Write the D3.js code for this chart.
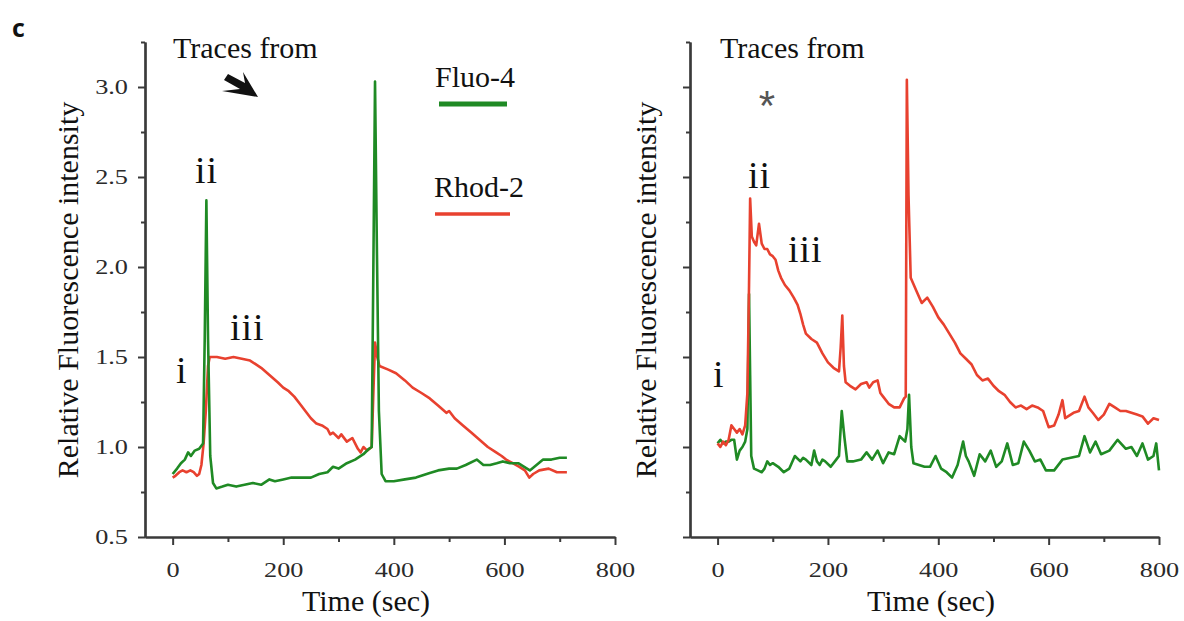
<!DOCTYPE html>
<html>
<head>
<title>Fluo-4 / Rhod-2 traces</title>
<script src="https://cdn.jsdelivr.net/npm/d3@7/dist/d3.min.js"></script>
<style>
body { margin: 0; background: #fff; }
svg text { font-family: "Liberation Serif", "Times New Roman", serif; }
</style>
</head>
<body>
<script>

// left panel, Fluo-4 (green)
var leftFluoT = [0,8,15,22,28,33,40,48,55,58,61,64,68,73,79,90,100,115,130,145,160,175,185,200,215,230,250,265,280,290,300,315,330,345,355,360,363,366,369,373,378,385,400,420,440,465,480,500,514,530,550,562,574,586,597,610,625,646,658,670,685,700,713];
var leftFluoV = [0.85,0.88,0.91,0.93,0.97,0.95,0.98,0.99,1.02,1.6,2.37,1.6,0.95,0.8,0.77,0.78,0.79,0.78,0.79,0.8,0.79,0.82,0.81,0.82,0.83,0.83,0.83,0.85,0.86,0.89,0.88,0.91,0.93,0.96,0.99,1.0,2.0,3.03,2.2,1.2,0.85,0.81,0.81,0.82,0.83,0.855,0.87,0.88,0.88,0.9,0.93,0.9,0.9,0.91,0.92,0.91,0.91,0.87,0.9,0.93,0.93,0.94,0.94];

// left panel, Rhod-2 (red)
var leftRhodT = [0,5,12,18,25,32,38,44,48,52,56,60,64,67,80,95,110,125,140,150,160,175,190,200,210,220,230,240,250,260,270,280,285,290,300,305,315,325,335,340,345,352,360,363,366,370,374,390,404,420,434,450,465,480,495,500,510,525,540,555,570,585,595,603,615,627,637,645,652,663,680,695,713];
var leftRhodV = [0.83,0.84,0.86,0.87,0.86,0.87,0.86,0.84,0.85,0.9,1.02,1.2,1.45,1.5,1.5,1.49,1.5,1.49,1.48,1.46,1.44,1.4,1.36,1.33,1.31,1.28,1.24,1.2,1.16,1.13,1.12,1.1,1.07,1.08,1.05,1.07,1.03,1.05,0.99,0.97,1.0,0.98,1.0,1.3,1.58,1.5,1.45,1.43,1.41,1.37,1.33,1.3,1.27,1.23,1.19,1.2,1.16,1.12,1.08,1.04,1.0,0.97,0.95,0.93,0.91,0.89,0.87,0.83,0.85,0.87,0.88,0.86,0.86];

// right panel, Rhod-2 (red)
var rightRhodT = [0,5,10,15,20,25,30,35,40,45,50,54,57,59,62,66,70,75,80,85,90,95,100,105,110,115,122,130,138,145,150,155,160,170,180,190,200,210,220,223,226,229,232,240,250,260,270,275,282,290,295,300,310,320,330,338,341,343,346,350,360,370,380,390,400,410,420,430,440,450,460,470,480,490,500,510,520,530,540,550,560,570,580,590,600,610,618,625,630,635,645,655,665,672,680,690,700,710,720,730,740,750,760,770,780,790,800];
var rightRhodV = [1.02,1.0,1.03,1.01,1.04,1.12,1.1,1.08,1.1,1.07,1.12,1.3,1.9,2.38,2.17,2.14,2.12,2.24,2.13,2.1,2.1,2.07,2.06,2.04,1.98,1.94,1.9,1.87,1.83,1.79,1.74,1.68,1.63,1.6,1.58,1.52,1.47,1.44,1.42,1.55,1.73,1.45,1.36,1.34,1.32,1.35,1.36,1.33,1.36,1.37,1.3,1.28,1.24,1.22,1.22,1.27,1.28,3.04,2.4,1.94,1.87,1.8,1.83,1.78,1.72,1.68,1.63,1.58,1.52,1.49,1.46,1.4,1.37,1.38,1.34,1.31,1.29,1.25,1.22,1.23,1.21,1.23,1.22,1.2,1.11,1.12,1.18,1.26,1.16,1.17,1.19,1.2,1.28,1.22,1.19,1.15,1.18,1.24,1.22,1.2,1.2,1.19,1.18,1.17,1.13,1.16,1.15];

// right panel, Fluo-4 (green)
var rightFluoT = [0,5,10,15,20,25,30,35,40,45,50,54,57,59,61,66,73,80,85,90,95,100,110,120,130,140,150,155,160,170,175,180,185,190,195,205,215,220,225,230,235,245,260,270,280,290,300,310,320,330,340,344,347,351,355,365,375,385,395,405,415,425,435,445,450,455,465,475,485,495,505,515,525,535,545,555,565,575,585,595,610,625,640,655,665,675,685,695,710,725,740,750,760,770,780,790,795,800];
var rightFluoV = [1.02,1.04,1.02,1.03,1.03,1.04,1.04,0.93,0.98,1.0,1.03,1.1,1.85,1.4,0.95,0.88,0.87,0.86,0.88,0.92,0.9,0.91,0.89,0.86,0.88,0.95,0.92,0.94,0.93,0.9,0.98,0.92,0.9,0.93,0.92,0.89,0.93,0.95,1.2,1.05,0.92,0.92,0.93,0.97,0.93,0.98,0.91,0.97,0.96,1.06,1.03,1.1,1.29,1.0,0.91,0.9,0.89,0.89,0.95,0.88,0.86,0.83,0.9,1.03,0.95,0.92,0.84,0.96,0.92,0.98,0.89,0.92,1.02,0.9,0.91,1.03,0.98,0.92,0.93,0.87,0.87,0.93,0.94,0.95,1.06,0.97,1.03,0.96,0.98,1.04,0.99,1.0,0.95,1.02,0.93,0.95,1.02,0.87];

var xMajor = [0,200,400,600,800];
var xMinor = [100,300,500,700];
var yMajor = [0.5,1.0,1.5,2.0,2.5,3.0];
var yMinor = [0.75,1.25,1.75,2.25,2.75,3.25];

var green = "#1f8a24";
var red = "#e8412f";
var axisColor = "#3a3a3a";

var svg = d3.select("body")
	.append("svg")
	.attr("width", 1184)
	.attr("height", 621);

function stretchText(sel, sx){
	// the figure's tick text is wider than plain Times, stretch it sideways
	sel.each(function(){
		var t = d3.select(this);
		var x = +t.attr("x") || 0;
		t.attr("x", x / sx).attr("transform", "scale(" + sx + ",1)");
	});
}

function make_panel(left, right, showLabels, series){

	var x = d3.scaleLinear().domain([-50, 800]).range([left, right]);
	var y = d3.scaleLinear().domain([0.5, 3.25]).range([537, 42]);

	// y axis, minor then major
	var yMin = svg.append("g")
		.attr("transform", "translate(" + left + ",0)")
		.call(d3.axisLeft(y).tickValues(yMinor).tickSize(4).tickSizeOuter(0).tickFormat(""));
	var yMaj = svg.append("g")
		.attr("transform", "translate(" + left + ",0)")
		.call(d3.axisLeft(y).tickValues(yMajor).tickSize(7).tickSizeOuter(0).tickPadding(10)
			.tickFormat(showLabels ? d3.format(".1f") : ""));

	var xMin = svg.append("g")
		.attr("transform", "translate(0,537)")
		.call(d3.axisBottom(x).tickValues(xMinor).tickSize(5).tickSizeOuter(0).tickFormat(""));
	var xMaj = svg.append("g")
		.attr("transform", "translate(0,537)")
		.call(d3.axisBottom(x).tickValues(xMajor).tickSize(8).tickSizeOuter(0).tickPadding(17));

	[yMin, yMaj, xMin, xMaj].forEach(function(g){
		g.select(".domain").attr("stroke", axisColor).attr("stroke-width", 2.2);
		g.selectAll(".tick line").attr("stroke", axisColor).attr("stroke-width", 2);
		g.selectAll("text")
			.attr("font-size", 21)
			.attr("fill", "#2a2a2a");
	});
	stretchText(yMaj.selectAll("text"), 1.25);
	stretchText(xMaj.selectAll("text"), 1.25);

	var line = d3.line()
		.x(function(d){ return x(d[0]); })
		.y(function(d){ return y(d[1]); });

	series.forEach(function(s){
		var pts = s.t.map(function(t, i){ return [t, s.v[i]]; });
		svg.append("path")
			.datum(pts)
			.attr("fill", "none")
			.attr("stroke", s.color)
			.attr("stroke-width", 2.6)
			.attr("stroke-linejoin", "round")
			.attr("d", line);
	});
}

make_panel(145, 615, true, [
	{t: leftRhodT, v: leftRhodV, color: red},
	{t: leftFluoT, v: leftFluoV, color: green}
]);
make_panel(690, 1159, false, [
	{t: rightFluoT, v: rightFluoV, color: green},
	{t: rightRhodT, v: rightRhodV, color: red}
]);

function label(x, y, str, size, extra){
	var t = svg.append("text")
		.attr("x", x)
		.attr("y", y)
		.attr("font-size", size)
		.attr("fill", "#111")
		.text(str);
	if (extra) extra(t);
	return t;
}

// axis titles
[78, 656].forEach(function(bx){
	svg.append("text")
		.attr("transform", "translate(" + bx + ",290) rotate(-90)")
		.attr("text-anchor", "middle")
		.attr("font-size", 30)
		.attr("fill", "#111")
		.text("Relative Fluorescence intensity");
});
label(366, 611, "Time (sec)", 30, function(t){ t.attr("text-anchor", "middle"); });
label(931, 611, "Time (sec)", 30, function(t){ t.attr("text-anchor", "middle"); });

// panel letter
svg.append("text")
	.attr("x", 12)
	.attr("y", 37)
	.style("font-family", "'Open Sans', 'Liberation Sans', Arial, sans-serif")
	.style("font-weight", "bold")
	.attr("font-size", 25)
	.attr("fill", "#111")
	.text("c");

label(173, 58, "Traces from", 30);
label(720, 58, "Traces from", 30);

// arrow next to the left title
svg.append("path")
	.attr("d", "M258,97 L243,72 L245,83 L228,74 L224,80 L240,89 L222,91 Z")
	.attr("fill", "#111");

// asterisk on the right
svg.append("text")
	.attr("x", 767)
	.attr("y", 120)
	.attr("text-anchor", "middle")
	.style("font-family", "'Liberation Sans', Arial, sans-serif")
	.attr("font-size", 42)
	.attr("fill", "#555")
	.text("*");

// legend
label(435, 87, "Fluo-4", 30);
svg.append("line").attr("x1", 439).attr("x2", 507).attr("y1", 104).attr("y2", 104)
	.attr("stroke", green).attr("stroke-width", 5);
label(434, 197, "Rhod-2", 30);
svg.append("line").attr("x1", 435).attr("x2", 510).attr("y1", 214).attr("y2", 214)
	.attr("stroke", red).attr("stroke-width", 3.5);

// stage markers
var marks = [
	["i", 176, 383], ["ii", 195, 183], ["iii", 230, 340],
	["i", 713, 387], ["ii", 748, 188], ["iii", 788, 262]
];
marks.forEach(function(m){
	label(m[1], m[2], m[0], 38, function(t){ t.attr("letter-spacing", 1); });
});

</script>
</body>
</html>
